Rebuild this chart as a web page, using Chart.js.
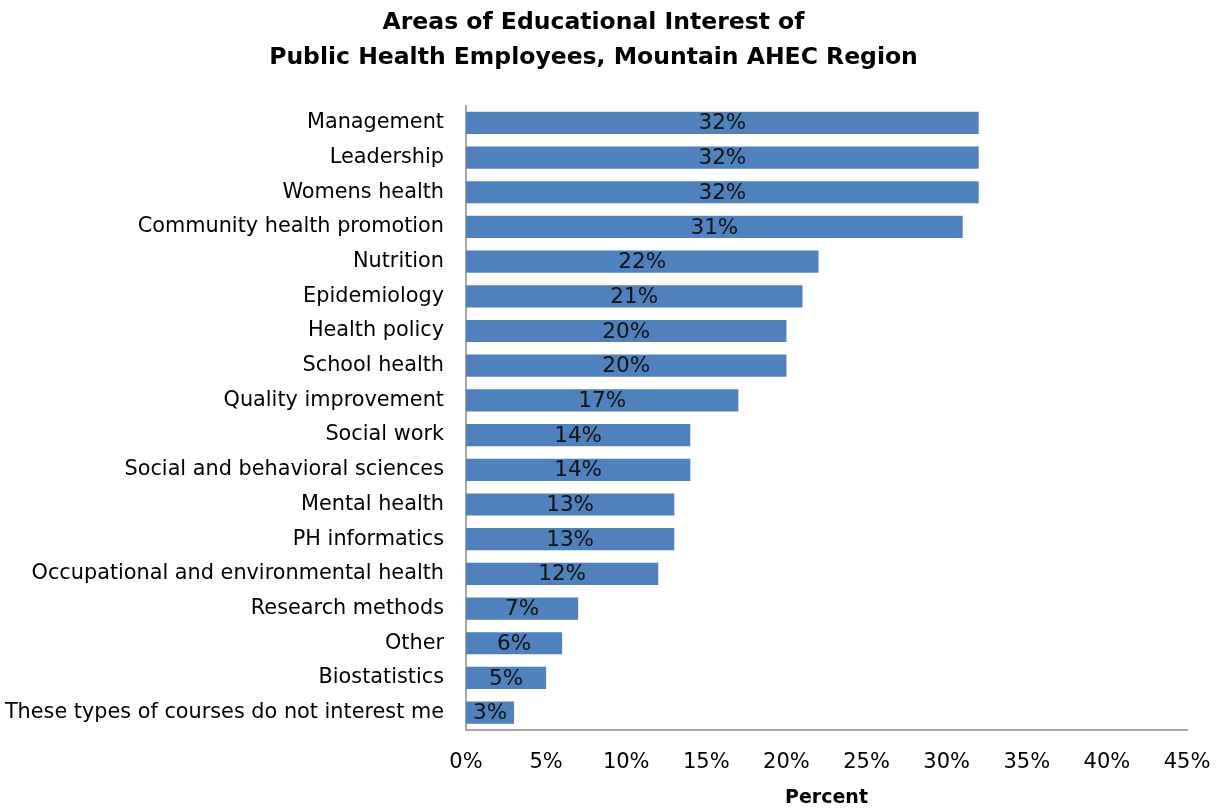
<!DOCTYPE html>
<html>
<head>
<meta charset="utf-8">
<script src="https://cdn.jsdelivr.net/npm/chart.js@4"></script>
<style>
html,body{margin:0;padding:0;background:#fff;}
#wrap{width:1221px;height:810px;}
</style>
</head>
<body>
<div id="wrap"><canvas id="c" width="1221" height="810"></canvas></div>
<script>
const categories = [
  "Management","Leadership","Womens health","Community health promotion","Nutrition",
  "Epidemiology","Health policy","School health","Quality improvement","Social work",
  "Social and behavioral sciences","Mental health","PH informatics",
  "Occupational and environmental health","Research methods","Other","Biostatistics",
  "These types of courses do not interest me"
];
const percents = [32,32,32,31,22,21,20,20,17,14,14,13,13,12,7,6,5,3];
const xTicks = [0,5,10,15,20,25,30,35,40,45];
const titleLines = ["Areas of Educational Interest of","Public Health Employees, Mountain AHEC Region"];
const xTitle = "Percent";

const FONT = "'DejaVu Sans', 'Liberation Sans', sans-serif";

const labelPlugin = {
  id: 'barLabels',
  afterDatasetsDraw(chart) {
    const ctx = chart.ctx;
    const meta = chart.getDatasetMeta(0);
    ctx.save();
    ctx.font = "21.5px " + FONT;
    ctx.fillStyle = "#111";
    ctx.textAlign = "center";
    ctx.textBaseline = "middle";
    meta.data.forEach((bar, i) => {
      const cx = (bar.x + bar.base) / 2;
      ctx.fillText(percents[i] + "%", cx, bar.y + 1);
    });
    ctx.restore();
  }
};

new Chart(document.getElementById('c'), {
  type: 'bar',
  data: {
    labels: categories,
    datasets: [{
      data: percents,
      backgroundColor: '#4f81bd',
      borderWidth: 0,
      categoryPercentage: 1.0,
      barPercentage: 0.64
    }]
  },
  options: {
    indexAxis: 'y',
    responsive: false,
    animation: false,
    devicePixelRatio: 1,
    layout: { padding: { left: 0, right: 34, top: 0, bottom: 0 } },
    plugins: {
      legend: { display: false },
      tooltip: { enabled: false },
      title: {
        display: true,
        text: titleLines,
        color: '#000',
        font: { family: FONT, size: 23.5, weight: 'bold', lineHeight: 1.5 },
        padding: { top: 5, bottom: 30 }
      }
    },
    scales: {
      x: {
        min: 0, max: 45,
        afterBuildTicks(axis) { axis.ticks = xTicks.map(v => ({ value: v })); },
        afterFit(axis) { axis.height = 80; axis.paddingLeft = 0; axis.paddingRight = 0; },
        ticks: {
          callback: v => v + '%',
          color: '#000',
          font: { family: FONT, size: 21 },
          padding: 20,
          maxRotation: 0
        },
        grid: { display: false, drawTicks: false },
        border: { display: true, color: '#a6a6a6', width: 2 },
        title: {
          display: true, text: xTitle, color: '#000',
          font: { family: FONT, size: 19, weight: 'bold' },
          padding: { top: 10, bottom: 1 }
        }
      },
      y: {
        afterFit(axis) { axis.width = 466; axis.paddingTop = 0; axis.paddingBottom = 0; },
        ticks: {
          color: '#000',
          font: { family: FONT, size: 20.8 },
          padding: 22
        },
        grid: { display: false, drawTicks: false },
        border: { display: true, color: '#a6a6a6', width: 2 }
      }
    }
  },
  plugins: [labelPlugin]
});
</script>
</body>
</html>
